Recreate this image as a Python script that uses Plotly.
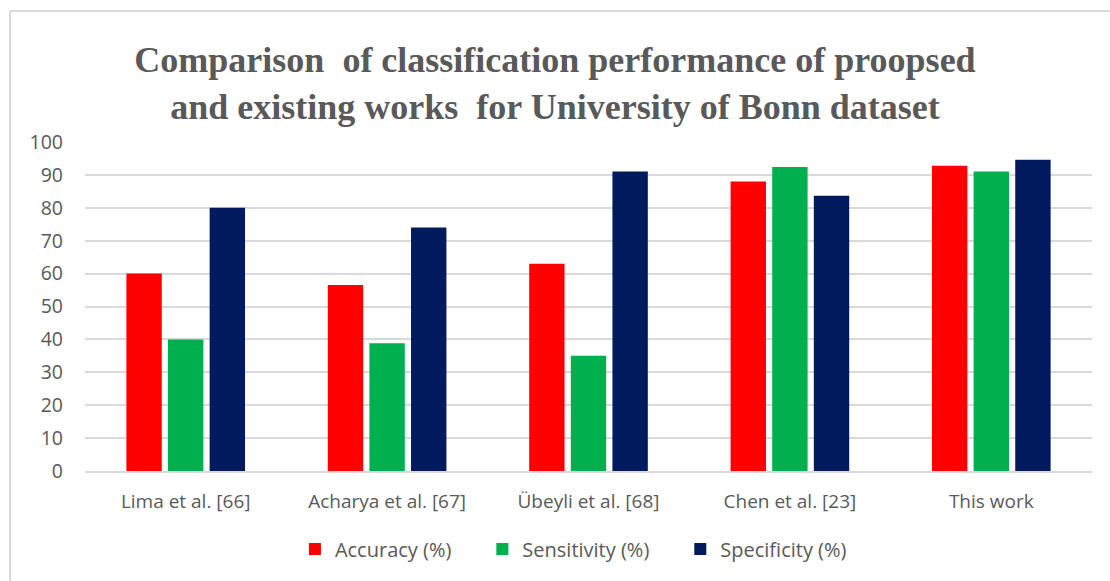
import plotly.graph_objects as go

categories = ["Lima et al. [66]", "Acharya et al. [67]", "Übeyli et al. [68]", "Chen et al. [23]", "This work"]
accuracy = [60, 56.5, 63, 88, 92.8]
sensitivity = [40, 38.8, 35, 92.4, 91]
specificity = [80, 74, 91, 83.7, 94.6]
series_names = ["Accuracy (%)", "Sensitivity (%)", "Specificity (%)"]
colors = ["#FF0000", "#00B04F", "#001A5E"]
y_ticks = list(range(0, 101, 10))

W, H = 1110, 581
L, R, T, B = 85, 18, 142, 110

sp = "\u00a0"
fig = go.Figure()
for i, (name, vals, c) in enumerate(zip(series_names, [accuracy, sensitivity, specificity], colors)):
    label = name + (sp * 5 if i < len(series_names) - 1 else "")
    fig.add_trace(go.Bar(x=categories, y=vals, name=label, marker=dict(color=c, line=dict(width=0))))

pw = W - L - R
ph = H - T - B
def px_x(p):
    return (p - L) / pw
def px_y(p):
    return (H - B - p) / ph

title_text = ("Comparison" + sp + " of classification performance of proopsed<br>"
              "and existing works" + sp + " for University of Bonn dataset")

fig.update_layout(
    width=W, height=H,
    margin=dict(l=L, r=R, t=T, b=B),
    paper_bgcolor="white", plot_bgcolor="white",
    barmode="group", bargap=0.38, bargroupgap=0.15,
    title=dict(
        text=title_text,
        x=0.5, xanchor="center", y=1 - 72 / H, yanchor="middle",
        font=dict(family="Liberation Serif", size=36, color="#595959", weight="bold"),
    ),
    font=dict(family="Open Sans", color="#595959"),
    xaxis=dict(showgrid=False, showline=True, linecolor="#d9d9d9", linewidth=1.5,
               tickfont=dict(size=19, color="#595959"), ticks="", ticklabelstandoff=12),
    yaxis=dict(range=[0, 100], tickvals=y_ticks, showgrid=True, gridcolor="#d9d9d9", gridwidth=1.5,
               zeroline=False, tickfont=dict(size=19.5, color="#595959"), ticks="", ticklabelstandoff=21),
    legend=dict(orientation="h", x=0.485, xanchor="center", y=px_y(549), yanchor="middle",
                font=dict(size=20, color="#595959"), itemwidth=30, traceorder="normal"),
    shapes=[
        dict(type="line", xref="paper", yref="paper", x0=px_x(10), x1=px_x(1115), y0=px_y(11), y1=px_y(11),
             line=dict(color="#d9d9d9", width=2)),
        dict(type="line", xref="paper", yref="paper", x0=px_x(10), x1=px_x(10), y0=px_y(11), y1=px_y(590),
             line=dict(color="#d9d9d9", width=2)),
    ],
)

fig.write_html("out.html", config={"displayModeBar": False},
               post_script="document.body.style.margin='0px';")
